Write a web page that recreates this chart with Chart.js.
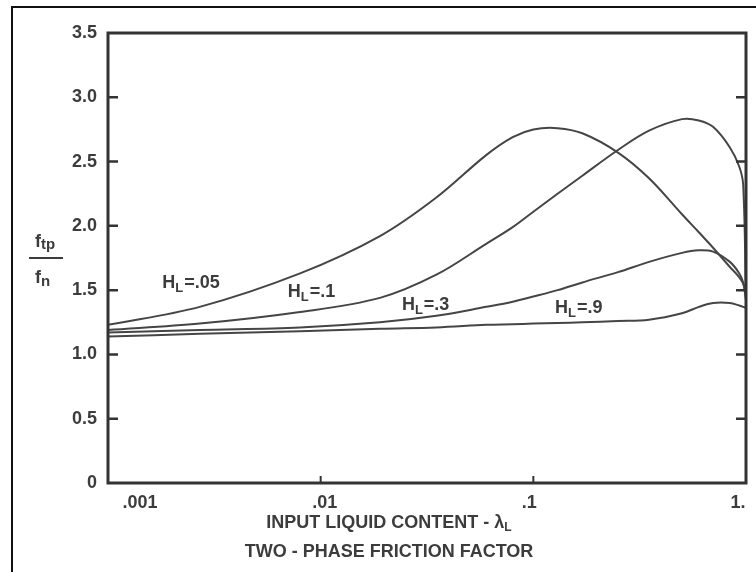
<!DOCTYPE html>
<html>
<head>
<meta charset="utf-8">
<script src="https://cdn.jsdelivr.net/npm/chart.js@4.4.1/dist/chart.umd.min.js"></script>
<style>
  html, body { margin: 0; padding: 0; background: #fff; overflow: hidden; }
  #wrap { position: relative; width: 756px; height: 572px; }
  #frame { position: absolute; left: 11px; top: 6px; width: 800px; height: 700px; border: 2px solid #111; box-sizing: border-box; }
  canvas { position: absolute; left: 0; top: 0; }
</style>
</head>
<body>
<div id="wrap">
  <div id="frame"></div>
  <canvas id="chart" width="756" height="572"></canvas>
</div>
<script>
// input liquid content (lambda L), shared by all curves
const liquidContent = [0.001, 0.0027, 0.008, 0.019, 0.035, 0.06, 0.08, 0.1, 0.13, 0.17, 0.25, 0.35, 0.5, 0.6, 0.7, 0.84, 0.93, 0.97, 1.0];

// ftp / fn for each liquid holdup HL
const holdup05 = [1.23, 1.37, 1.63, 1.92, 2.22, 2.55, 2.69, 2.75, 2.76, 2.72, 2.57, 2.37, 2.09, 1.95, 1.83, 1.68, 1.60, 1.55, 1.47];
const holdup1  = [1.19, 1.24, 1.33, 1.44, 1.62, 1.86, 1.99, 2.11, 2.25, 2.39, 2.59, 2.74, 2.83, 2.82, 2.77, 2.61, 2.46, 2.32, 1.42];
const holdup3  = [1.17, 1.19, 1.21, 1.25, 1.30, 1.37, 1.41, 1.45, 1.50, 1.56, 1.64, 1.72, 1.79, 1.81, 1.80, 1.72, 1.63, 1.56, 1.42];
const holdup9  = [1.14, 1.16, 1.18, 1.20, 1.21, 1.23, 1.235, 1.24, 1.245, 1.25, 1.26, 1.27, 1.32, 1.37, 1.40, 1.40, 1.38, 1.37, 1.36];

const holdupNames = ['.05', '.1', '.3', '.9'];
const xTickValues = [0.001, 0.01, 0.1, 1];
const xTickLabels = ['.001', '.01', '.1', '1.'];
const yTickValues = [0, 0.5, 1.0, 1.5, 2.0, 2.5, 3.0, 3.5];

const FONT = 'Liberation Sans, Arial, sans-serif';
const INK = '#3c3c3c';

function toPoints(values) {
    return values.map((v, i) => ({ x: liquidContent[i], y: v }));
}

// H with subscript L, then "=.05" etc
function drawHoldupLabel(ctx, x, y, name) {
    ctx.fillStyle = INK;
    ctx.textAlign = 'left';
    ctx.textBaseline = 'alphabetic';
    ctx.font = 'bold 18px ' + FONT;
    ctx.fillText('H', x, y);
    let w = ctx.measureText('H').width;
    ctx.font = 'bold 13px ' + FONT;
    ctx.fillText('L', x + w, y + 4);
    w += ctx.measureText('L').width + 1;
    ctx.font = 'bold 18px ' + FONT;
    ctx.fillText('=' + name, x + w, y);
}

const labelSpots = [
    { x: 0.0018, y: 1.52 },
    { x: 0.0070, y: 1.45 },
    { x: 0.0241, y: 1.345 },
    { x: 0.1265, y: 1.32 }
];

// nudges so the tick labels sit like the printed ones
const xLabelShift = [32, 4, -4, -8];

const decorations = {
    id: 'decorations',
    afterDraw(chart) {
        const { ctx, chartArea, scales } = chart;
        const xs = scales.x, ys = scales.y;
        ctx.save();

        // plot frame
        ctx.strokeStyle = '#333';
        ctx.lineWidth = 3;
        ctx.strokeRect(chartArea.left, chartArea.top, chartArea.right - chartArea.left, chartArea.bottom - chartArea.top);

        // inward tick marks on left and right
        ctx.lineWidth = 2.5;
        yTickValues.forEach(v => {
            if (v === 0 || v === 3.5) return;
            const py = ys.getPixelForValue(v);
            ctx.beginPath();
            ctx.moveTo(chartArea.left, py);
            ctx.lineTo(chartArea.left + 10, py);
            ctx.moveTo(chartArea.right, py);
            ctx.lineTo(chartArea.right - 10, py);
            ctx.stroke();
        });
        // small ticks on bottom axis
        ctx.lineWidth = 2;
        [0.01, 0.1].forEach(v => {
            const px = xs.getPixelForValue(v);
            ctx.beginPath();
            ctx.moveTo(px, chartArea.bottom);
            ctx.lineTo(px, chartArea.bottom - 7);
            ctx.stroke();
        });

        // x tick labels
        ctx.fillStyle = INK;
        ctx.font = 'bold 18px ' + FONT;
        ctx.textAlign = 'center';
        ctx.textBaseline = 'alphabetic';
        xTickValues.forEach((v, i) => {
            ctx.fillText(xTickLabels[i], xs.getPixelForValue(v) + xLabelShift[i], chartArea.bottom + 25);
        });

        // curve labels
        labelSpots.forEach((s, i) => {
            drawHoldupLabel(ctx, xs.getPixelForValue(s.x), ys.getPixelForValue(s.y), holdupNames[i]);
        });

        // y axis title: ftp / fn
        ctx.fillStyle = INK;
        ctx.textAlign = 'left';
        ctx.font = 'bold 18px ' + FONT;
        ctx.fillText('f', 35, 247);
        ctx.font = 'bold 15px ' + FONT;
        ctx.fillText('tp', 41, 249);
        ctx.font = 'bold 18px ' + FONT;
        ctx.fillText('f', 35, 283);
        ctx.font = 'bold 15px ' + FONT;
        ctx.fillText('n', 41, 286);
        ctx.lineWidth = 2;
        ctx.strokeStyle = INK;
        ctx.beginPath();
        ctx.moveTo(29, 258);
        ctx.lineTo(63, 258);
        ctx.stroke();

        // x axis titles
        const cx = 389;
        const t1 = 'INPUT LIQUID CONTENT - \u03BB';
        ctx.font = 'bold 18px ' + FONT;
        const w1 = ctx.measureText(t1).width;
        ctx.font = 'bold 12px ' + FONT;
        const w1s = ctx.measureText('L').width;
        const x1 = cx - (w1 + w1s) / 2;
        ctx.font = 'bold 18px ' + FONT;
        ctx.fillText(t1, x1, 528);
        ctx.font = 'bold 12px ' + FONT;
        ctx.fillText('L', x1 + w1, 531);
        ctx.font = 'bold 18px ' + FONT;
        ctx.textAlign = 'center';
        ctx.fillText('TWO - PHASE FRICTION FACTOR', cx, 557);

        ctx.restore();
    }
};

const lineStyle = {
    borderColor: '#454545',
    borderWidth: 2,
    pointRadius: 0,
    fill: false,
    tension: 0.35
};

new Chart(document.getElementById('chart'), {
    type: 'line',
    data: {
        datasets: [
            { label: 'HL=.05', data: toPoints(holdup05), ...lineStyle },
            { label: 'HL=.1', data: toPoints(holdup1), ...lineStyle },
            { label: 'HL=.3', data: toPoints(holdup3), ...lineStyle },
            { label: 'HL=.9', data: toPoints(holdup9), ...lineStyle }
        ]
    },
    options: {
        responsive: false,
        animation: false,
        layout: { padding: { top: 33, right: 10, left: 0, bottom: 0 } },
        plugins: {
            legend: { display: false },
            tooltip: { enabled: false }
        },
        scales: {
            x: {
                type: 'logarithmic',
                min: 0.001,
                max: 1,
                afterBuildTicks: scale => { scale.ticks = xTickValues.map(v => ({ value: v })); },
                afterFit: scale => { scale.height = 89; },
                grid: { display: false, drawTicks: false },
                border: { display: false },
                ticks: { display: false }
            },
            y: {
                min: 0,
                max: 3.5,
                afterBuildTicks: scale => { scale.ticks = yTickValues.map(v => ({ value: v })); },
                afterFit: scale => { scale.width = 108; },
                grid: { display: false, drawTicks: false },
                border: { display: false },
                ticks: {
                    padding: 11,
                    color: INK,
                    font: { family: FONT, size: 18, weight: 'bold' },
                    callback: v => v === 0 ? '0' : v.toFixed(1)
                }
            }
        }
    },
    plugins: [decorations]
});
</script>
</body>
</html>
